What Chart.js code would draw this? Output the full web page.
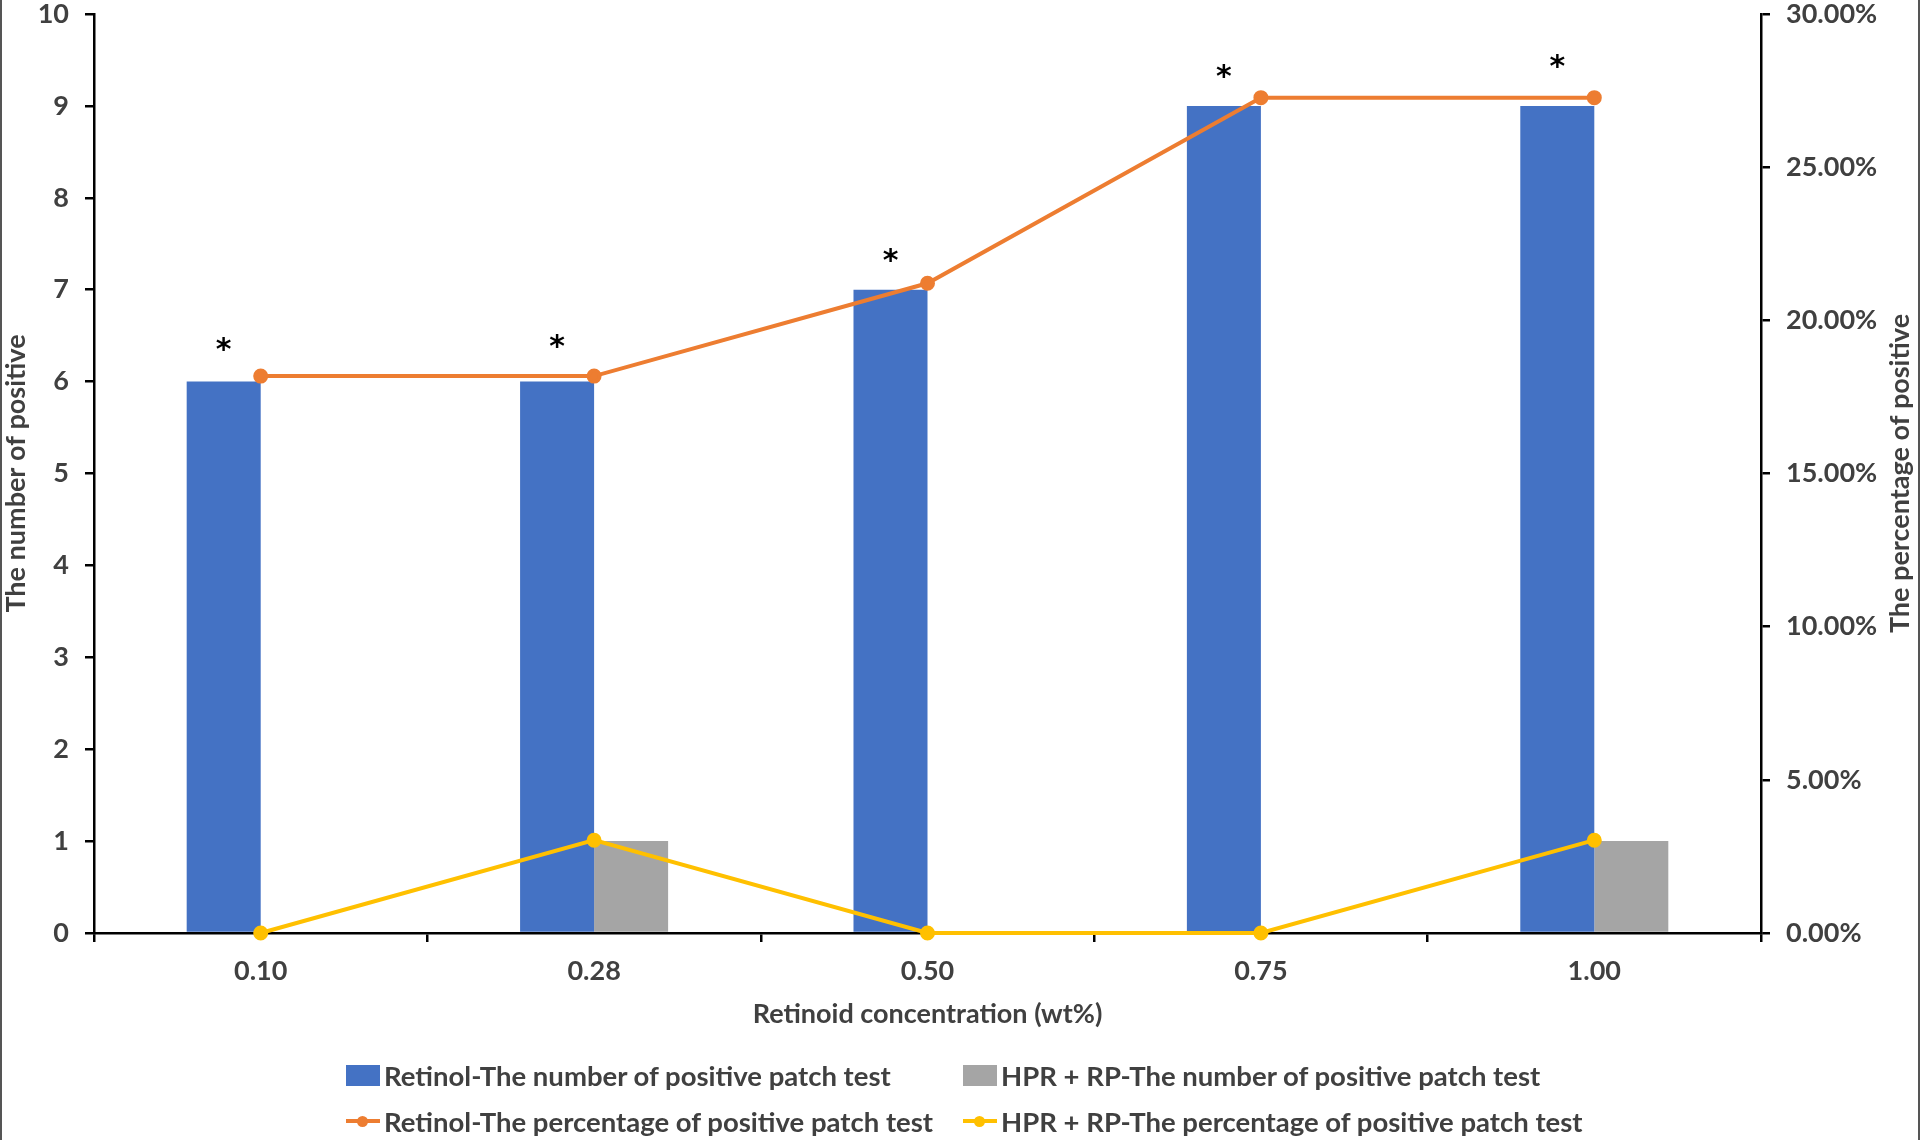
<!DOCTYPE html>
<html>
<head>
<meta charset="utf-8">
<script src="https://cdn.jsdelivr.net/npm/chart.js@4.4.1/dist/chart.umd.min.js"></script>
<style>
  body { margin: 0; background: #fff; font-family: Lato, sans-serif; }
  #wrap { position: relative; width: 1920px; height: 1140px; overflow: hidden; }
  #wrap canvas { position: absolute; left: 0; top: 0; }
  .frame { position: absolute; top: 0; width: 2px; height: 1140px; background: #555; }
  #legend { position: absolute; left: 346px; top: 1058px; display: grid;
    grid-template-columns: 617px 580px; row-gap: 12px; color: #404040; font-weight: 700; font-size: 27.5px; }
  .item { display: flex; align-items: center; height: 34px; white-space: nowrap; }
  .box { flex-shrink: 0; width: 34px; height: 21px; margin-right: 4px; }
  .ln { flex-shrink: 0; position: relative; width: 34px; height: 4px; margin-right: 4px; }
  .ln i { position: absolute; left: 11px; top: -3.5px; width: 11px; height: 11px; border-radius: 50%; }
</style>
</head>
<body>
<div id="wrap">
  <canvas id="chart" width="1920" height="1140"></canvas>
  <div class="frame" style="left:0"></div>
  <div class="frame" style="left:1918px"></div>
  <div id="legend"></div>
</div>
<script>
// data
const concentrations = ['0.10', '0.28', '0.50', '0.75', '1.00'];
const retinolCount = [6, 6, 7, 9, 9];
const hprCount = [0, 1, 0, 0, 1];
const retinolPct = [18.18, 18.18, 21.21, 27.27, 27.27];
const hprPct = [0, 3.03, 0, 0, 3.03];
const starHeights = [6.38, 6.42, 7.35, 9.36, 9.47];

const seriesNames = [
  'Retinol-The number of positive patch test',
  'HPR + RP-The number of positive patch test',
  'Retinol-The percentage of positive patch test',
  'HPR + RP-The percentage of positive patch test'
];
const colors = ['#4472C4', '#A5A5A5', '#ED7D31', '#FFC000'];
const textColor = '#404040';
const font = { family: 'Lato', weight: 'bold', size: 27 };
const rightTitle = 'The percentage of positive';

// asterisks above the retinol bars + right axis title (reads bottom to top)
const extras = {
  id: 'extras',
  afterDatasetsDraw(chart) {
    const { ctx } = chart;
    const meta = chart.getDatasetMeta(0);
    const y = chart.scales.y;
    ctx.save();
    ctx.fillStyle = '#000';
    ctx.font = 'bold 30px "DejaVu Sans"';
    ctx.textAlign = 'center';
    ctx.textBaseline = 'middle';
    meta.data.forEach((bar, i) => {
      ctx.fillText('*', bar.x, y.getPixelForValue(starHeights[i]) + 5);
    });
    ctx.restore();
  },
  afterDraw(chart) {
    const { ctx, chartArea } = chart;
    ctx.save();
    ctx.translate(1900, (chartArea.top + chartArea.bottom) / 2);
    ctx.rotate(-Math.PI / 2);
    ctx.fillStyle = textColor;
    ctx.font = 'bold 27px Lato';
    ctx.textAlign = 'center';
    ctx.textBaseline = 'middle';
    ctx.fillText(rightTitle, 0, 0);
    ctx.restore();
  }
};

const axisGrid = { drawOnChartArea: false, drawTicks: true, tickLength: 9, color: '#000', lineWidth: 2.5 };
const axisBorder = { display: true, color: '#000', width: 2.5 };

new Chart(document.getElementById('chart').getContext('2d'), {
  type: 'bar',
  data: {
    labels: concentrations,
    datasets: [
      { label: seriesNames[0], data: retinolCount, backgroundColor: colors[0], yAxisID: 'y', order: 2,
        categoryPercentage: 0.444, barPercentage: 1 },
      { label: seriesNames[1], data: hprCount, backgroundColor: colors[1], yAxisID: 'y', order: 2,
        categoryPercentage: 0.444, barPercentage: 1 },
      { type: 'line', label: seriesNames[2], data: retinolPct, borderColor: colors[2], backgroundColor: colors[2],
        borderWidth: 4, pointRadius: 5.5, pointHoverRadius: 5.5, yAxisID: 'y1', order: 0, clip: false },
      { type: 'line', label: seriesNames[3], data: hprPct, borderColor: colors[3], backgroundColor: colors[3],
        borderWidth: 4, pointRadius: 5.5, pointHoverRadius: 5.5, yAxisID: 'y1', order: 0, clip: false }
    ]
  },
  options: {
    responsive: false,
    animation: false,
    layout: { padding: 0 },
    plugins: { legend: { display: false }, tooltip: { enabled: false } },
    scales: {
      x: {
        grid: { ...axisGrid, offset: true },
        border: axisBorder,
        ticks: { color: textColor, font: font, padding: 13 },
        title: { display: true, text: 'Retinoid concentration (wt%)', color: textColor, font: font,
          padding: { top: 0, bottom: 110 } },
        afterFit(s) { s.height = 207; }
      },
      y: {
        position: 'left', min: 0, max: 10,
        grid: axisGrid, border: axisBorder,
        ticks: { stepSize: 1, color: textColor, font: font, padding: 16 },
        title: { display: true, text: 'The number of positive', color: textColor, font: font, padding: 0 },
        afterFit(s) { s.width = 94; s.paddingTop = 14; s.paddingBottom = 0; }
      },
      y1: {
        position: 'right', min: 0, max: 30,
        grid: axisGrid, border: axisBorder,
        ticks: { stepSize: 5, color: textColor, font: font, padding: 16,
          callback: v => v.toFixed(2) + '%' },
        afterFit(s) { s.width = 159; s.paddingTop = 14; s.paddingBottom = 0; }
      }
    }
  },
  plugins: [extras]
});

// two-column legend like the original
const legend = document.getElementById('legend');
seriesNames.forEach((name, i) => {
  const item = document.createElement('div');
  item.className = 'item';
  if (i < 2) {
    item.innerHTML = '<span class="box" style="background:' + colors[i] + '"></span>' + name;
  } else {
    item.innerHTML = '<span class="ln" style="background:' + colors[i] + '"><i style="background:' + colors[i] + '"></i></span>' + name;
  }
  legend.appendChild(item);
});
</script>
</body>
</html>
